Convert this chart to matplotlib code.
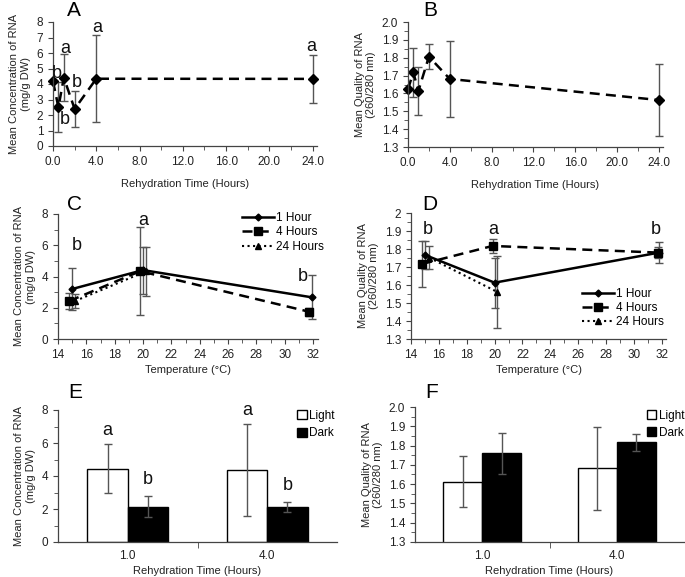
import numpy as np
import matplotlib
matplotlib.use('Agg')
import matplotlib.pyplot as plt
from matplotlib.ticker import MultipleLocator, FormatStrFormatter

plt.rcParams['font.family'] = ['Liberation Sans', 'DejaVu Sans']
plt.rcParams['font.size'] = 8

# panel A / B: rehydration time series
time_h = [0, 0.5, 1, 2, 4, 24]
conc_time = [4.18, 2.49, 4.41, 2.39, 4.34, 4.33]
conc_time_err = [0, 1.61, 1.50, 1.17, 2.82, 1.55]
qual_time = [1.623, 1.718, 1.615, 1.806, 1.681, 1.563]
qual_time_err = [0, 0.137, 0.134, 0.070, 0.214, 0.200]

# panel C / D: temperature series (x read per series, points are offset)
temp_1h = [15.0, 20.0, 31.9]
temp_4h = [14.8, 19.8, 31.7]
temp_24h = [15.2, 20.2]
conc_1h = [3.20, 4.41, 2.67]
conc_1h_err = [1.36, 1.50, 1.40]
conc_4h = [2.43, 4.34, 1.75]
conc_4h_err = [0.50, 2.80, 0.25]
conc_24h = [2.43, 4.33]
conc_24h_err = [0.47, 1.55]
temp_q_1h = [15.0, 20.0, 31.8]
temp_q_4h = [14.8, 19.85, 31.75]
temp_q_24h = [15.3, 20.2]
qual_1h = [1.767, 1.613, 1.78]
qual_1h_err = [0.080, 0.139, 0.060]
qual_4h = [1.717, 1.817, 1.78]
qual_4h_err = [0.130, 0.037, 0.030]
qual_24h = [1.752, 1.561]
qual_24h_err = [0.063, 0.200]

# panel E / F: light vs dark
ld_cats = ['1.0', '4.0']
conc_light = [4.45, 4.36]
conc_light_err = [1.50, 2.80]
conc_dark = [2.15, 2.12]
conc_dark_err = [0.62, 0.33]
qual_light = [1.613, 1.682]
qual_light_err = [0.134, 0.214]
qual_dark = [1.760, 1.816]
qual_dark_err = [0.107, 0.045]

W, H = 685, 577
fig = plt.figure(figsize=(W / 100, H / 100), dpi=100)


def make_ax(left, right, top, bottom):
    ax = fig.add_axes([left / W, 1 - bottom / H, (right - left) / W, (bottom - top) / H])
    ax.spines['top'].set_visible(False)
    ax.spines['right'].set_visible(False)
    for s in ('left', 'bottom'):
        ax.spines[s].set_color('#444444')
        ax.spines[s].set_linewidth(0.9)
    ax.tick_params(which='both', direction='out', color='#444444', labelsize=8.5, labelcolor='#222222')
    ax.tick_params(which='major', length=3.5)
    ax.tick_params(which='minor', length=3)
    return ax


ekw = dict(ecolor='#555555', elinewidth=1, capsize=3, capthick=1)
lab = dict(fontsize=8, color='#222222')
conc_lab = 'Mean Concentration of RNA\n(mg/g DW)'
qual_lab = 'Mean Quality of RNA\n(260/280 nm)'
letter = dict(fontsize=13, ha='center', va='center', color='#111111')
line_leg = dict(frameon=False, fontsize=8.5, handlelength=2.7, labelspacing=0.2, handletextpad=0.2)
bar_leg = dict(frameon=False, fontsize=8.5, handlelength=0.8, handleheight=0.8,
               handletextpad=0.2, labelspacing=0.45)

# ---- A
ax = make_ax(53, 317, 22, 146)
ax.errorbar(time_h, conc_time, yerr=conc_time_err, fmt='D', ms=5, color='black', **ekw)
ax.plot(time_h, conc_time, '--', color='black', lw=1.8, dashes=(4, 2.5))
ax.set_xlim(0, 24.4)
ax.set_ylim(0, 8)
ax.xaxis.set_major_locator(MultipleLocator(4))
ax.xaxis.set_minor_locator(MultipleLocator(2))
ax.xaxis.set_major_formatter(FormatStrFormatter('%.1f'))
ax.yaxis.set_major_locator(MultipleLocator(1))
ax.set_xlabel('Rehydration Time (Hours)', labelpad=8, **lab)
ax.set_ylabel(conc_lab, **lab)
for x, y, t in [(0.35, 4.7, 'b'), (1.17, 6.3, 'a'), (2.24, 4.08, 'b'), (1.1, 1.68, 'b'),
                (4.09, 7.66, 'a'), (23.9, 6.45, 'a')]:
    ax.text(x, y, t, **letter)
for l in ax.get_lines():
    l.set_clip_on(False)

# ---- B
ax = make_ax(408, 663, 22, 147)
ax.errorbar(time_h, qual_time, yerr=qual_time_err, fmt='D', ms=5, color='black', **ekw)
ax.plot(time_h, qual_time, '--', color='black', lw=1.8, dashes=(4, 2.5))
ax.set_xlim(0, 24.4)
ax.set_ylim(1.3, 2.0)
ax.xaxis.set_major_locator(MultipleLocator(4))
ax.xaxis.set_minor_locator(MultipleLocator(2))
ax.xaxis.set_major_formatter(FormatStrFormatter('%.1f'))
ax.yaxis.set_major_locator(MultipleLocator(0.1))
ax.yaxis.set_minor_locator(MultipleLocator(0.05))
ax.yaxis.set_major_formatter(FormatStrFormatter('%.1f'))
ax.set_xlabel('Rehydration Time (Hours)', labelpad=8, **lab)
ax.set_ylabel(qual_lab, **lab)
for l in ax.get_lines():
    l.set_clip_on(False)

# ---- C
ax = make_ax(58, 318, 214, 339)
ax.errorbar(temp_1h, conc_1h, yerr=conc_1h_err, fmt='none', **ekw)
ax.errorbar(temp_4h, conc_4h, yerr=conc_4h_err, fmt='none', **ekw)
ax.errorbar(temp_24h, conc_24h, yerr=conc_24h_err, fmt='none', **ekw)
ax.plot(temp_1h, conc_1h, '-', marker='D', ms=3.5, color='black', lw=1.8, label='1 Hour')
ax.plot(temp_4h, conc_4h, '--', marker='s', ms=6, color='black', lw=1.8, dashes=(4, 2.5), label='4 Hours')
ax.plot(temp_24h, conc_24h, ':', marker='^', ms=4, color='black', lw=1.5, label='24 Hours')
ax.set_xlim(14, 32.35)
ax.set_ylim(0, 8)
ax.xaxis.set_major_locator(MultipleLocator(2))
ax.xaxis.set_minor_locator(MultipleLocator(1))
ax.yaxis.set_major_locator(MultipleLocator(2))
ax.yaxis.set_minor_locator(MultipleLocator(1))
ax.set_xlabel('Temperature (°C)', labelpad=3, **lab)
ax.set_ylabel(conc_lab, **lab)
for x, y, t in [(15.3, 6.0, 'b'), (20.0, 7.6, 'a'), (31.3, 4.0, 'b')]:
    ax.text(x, y, t, **letter)
ax.legend(loc='upper right', bbox_to_anchor=(1.065, 1.1), **line_leg)
for l in ax.get_lines():
    l.set_clip_on(False)

# ---- D
ax = make_ax(411, 666, 213, 339)
ax.errorbar(temp_q_1h, qual_1h, yerr=qual_1h_err, fmt='none', **ekw)
ax.errorbar(temp_q_4h, qual_4h, yerr=qual_4h_err, fmt='none', **ekw)
ax.errorbar(temp_q_24h, qual_24h, yerr=qual_24h_err, fmt='none', **ekw)
ax.plot(temp_q_1h, qual_1h, '-', marker='D', ms=3.5, color='black', lw=1.8, label='1 Hour')
ax.plot(temp_q_4h, qual_4h, '--', marker='s', ms=6, color='black', lw=1.8, dashes=(4, 2.5), label='4 Hours')
ax.plot(temp_q_24h, qual_24h, ':', marker='^', ms=4, color='black', lw=1.5, label='24 Hours')
ax.set_xlim(14, 32.3)
ax.set_ylim(1.3, 2.0)
ax.xaxis.set_major_locator(MultipleLocator(2))
ax.xaxis.set_minor_locator(MultipleLocator(1))
ax.yaxis.set_major_locator(MultipleLocator(0.1))
ax.yaxis.set_minor_locator(MultipleLocator(0.05))
ax.yaxis.set_major_formatter(plt.FuncFormatter(lambda v, p: '%g' % round(v, 2)))
ax.set_xlabel('Temperature (°C)', labelpad=3, **lab)
ax.set_ylabel(qual_lab, **lab)
for x, y, t in [(15.2, 1.91, 'b'), (19.9, 1.91, 'a'), (31.6, 1.91, 'b')]:
    ax.text(x, y, t, **letter)
ax.legend(loc='lower right', bbox_to_anchor=(1.035, 0.0), **line_leg)
for l in ax.get_lines():
    l.set_clip_on(False)


def bar_panel(ax, light, light_err, dark, dark_err):
    x = np.arange(len(ld_cats))
    w = 0.29
    ax.bar(x - w / 2, light, w, yerr=light_err, color='white', edgecolor='black', lw=1,
           error_kw=ekw, label='Light')
    ax.bar(x + w / 2, dark, w, yerr=dark_err, color='black', edgecolor='black', lw=1,
           error_kw=ekw, label='Dark')
    ax.set_xlim(-0.5, 1.5)
    ax.set_xticks([0.5], minor=True)
    ax.set_xticks(x, ld_cats)
    ax.tick_params(axis='x', which='major', length=0, pad=6)
    ax.tick_params(axis='x', which='minor', length=4)
    ax.set_xlabel('Rehydration Time (Hours)', labelpad=3, **lab)
    return x, w


# ---- E
ax = make_ax(58, 337, 410, 542)
x, w = bar_panel(ax, conc_light, conc_light_err, conc_dark, conc_dark_err)
ax.set_ylim(0, 8)
ax.yaxis.set_major_locator(MultipleLocator(2))
ax.yaxis.set_minor_locator(MultipleLocator(1))
ax.set_ylabel(conc_lab, **lab)
for i in range(len(ld_cats)):
    ax.text(x[i] - w / 2, conc_light[i] + conc_light_err[i] + 0.8, 'a', **letter)
    ax.text(x[i] + w / 2, conc_dark[i] + conc_dark_err[i] + 1.0, 'b', **letter)
ax.legend(loc='upper right', bbox_to_anchor=(1.03, 1.08), **bar_leg)

# ---- F
ax = make_ax(415, 684, 407, 542)
bar_panel(ax, qual_light, qual_light_err, qual_dark, qual_dark_err)
ax.set_ylim(1.3, 2.0)
ax.yaxis.set_major_locator(MultipleLocator(0.1))
ax.yaxis.set_minor_locator(MultipleLocator(0.05))
ax.yaxis.set_major_formatter(FormatStrFormatter('%.1f'))
ax.set_ylabel(qual_lab, **lab)
ax.legend(loc='upper right', bbox_to_anchor=(1.04, 1.06), **bar_leg)

for t, (px, py) in zip('ABCDEF', [(74, 11), (430, 11), (75, 204), (430, 204), (75, 392), (432, 392)]):
    fig.text(px / W, 1 - py / H, t, fontsize=15, ha='center', va='center')

fig.savefig('out.png', dpi=100)
